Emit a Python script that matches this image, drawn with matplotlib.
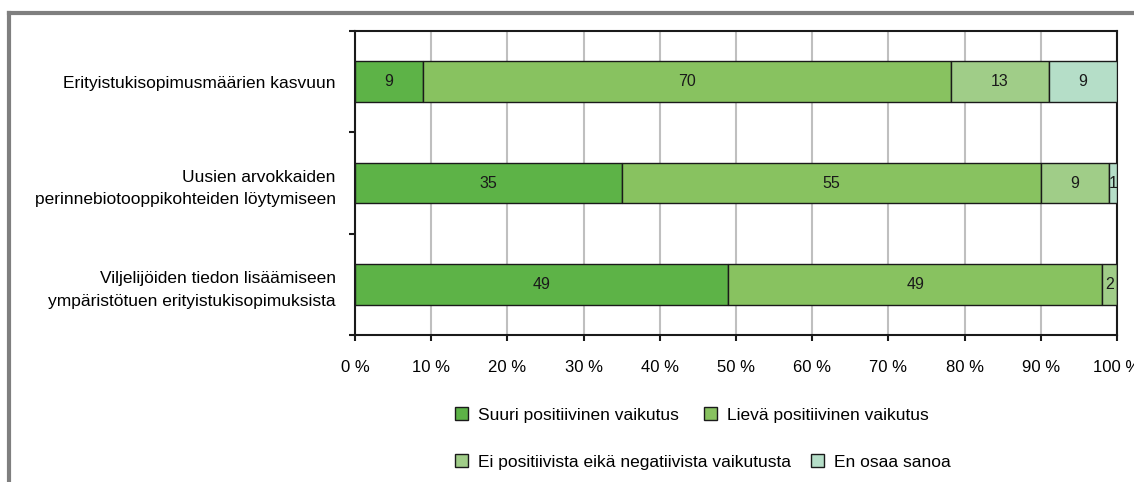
import numpy as np
import matplotlib.pyplot as plt
from matplotlib.lines import Line2D
from matplotlib.patches import Patch

plt.rcParams['font.family'] = ['Liberation Sans', 'DejaVu Sans']

categories = [
    'Erityistukisopimusmäärien kasvuun',
    'Uusien arvokkaiden\nperinnebiotooppikohteiden löytymiseen',
    'Viljelijöiden tiedon lisäämiseen\nympäristötuen erityistukisopimuksista',
]
series = ['Suuri positiivinen vaikutus', 'Lievä positiivinen vaikutus',
          'Ei positiivista eikä negatiivista vaikutusta', 'En osaa sanoa']
suuri = [9, 35, 49]
lieva = [70, 55, 49]
ei = [13, 9, 2]
en_osaa = [9, 1, 0]
colors = ['#5db347', '#88c260', '#a0cd88', '#b5dec8']

data = np.array([suuri, lieva, ei, en_osaa], dtype=float)
pct = data / data.sum(axis=0) * 100

fig = plt.figure(figsize=(11.34, 4.82), dpi=100)
ax = fig.add_axes([355 / 1134, 1 - 335 / 482, 762 / 1134, 304 / 482])

y = np.arange(len(categories))
left = np.zeros(len(categories))
for i in range(len(series)):
    ax.barh(y, pct[i], left=left, height=0.4, color=colors[i],
            edgecolor='#1a1a1a', linewidth=1.0, zorder=3, label=series[i])
    for j in range(len(categories)):
        if data[i, j] > 0:
            ax.text(left[j] + pct[i, j] / 2, y[j], f'{data[i, j]:.0f}',
                    ha='center', va='center', fontsize=11.5, color='#1a1a1a',
                    zorder=4, clip_on=True)
    left += pct[i]

ax.set_xlim(0, 100)
ax.set_ylim(len(categories) - 0.5, -0.5)
ax.set_xticks(np.arange(0, 101, 10))
ax.set_xticklabels([f'{v} %' for v in range(0, 101, 10)], fontsize=12)
ax.set_yticks(np.arange(-0.5, len(categories), 1))
ax.set_yticklabels([])
ax.set_yticks(y, minor=True)
ax.set_yticklabels(categories, minor=True, fontsize=12.5, ha='right', linespacing=1.65)
ax.tick_params(axis='y', which='minor', length=0, pad=14)
ax.tick_params(axis='y', which='major', length=4, width=1.5, color='#1a1a1a')
ax.tick_params(axis='x', length=4, width=1.5, color='#1a1a1a', pad=14)
ax.grid(axis='x', color='#bfbfbf', linewidth=1.5, zorder=0)
for s in ax.spines.values():
    s.set_color('#1a1a1a')
    s.set_linewidth(1.5)

# legend, two rows
h = [Patch(facecolor=c, edgecolor='#1a1a1a', linewidth=1.0) for c in colors]
fig.legend(h[:2], series[:2], loc='center left', bbox_to_anchor=(455 / 1134, 1 - 415 / 482),
           ncol=2, frameon=False, fontsize=12.5, handlelength=0.75, handleheight=0.75,
           handletextpad=0.6, columnspacing=1.4, borderpad=0, borderaxespad=0)
fig.legend(h[2:], series[2:], loc='center left', bbox_to_anchor=(455 / 1134, 1 - 462 / 482),
           ncol=2, frameon=False, fontsize=12.5, handlelength=0.75, handleheight=0.75,
           handletextpad=0.6, columnspacing=1.1, borderpad=0, borderaxespad=0)

# outer frame
fig.add_artist(Line2D([9 / 1134, 9 / 1134], [1 - 13 / 482, 0], transform=fig.transFigure,
                      color='#7f7f7f', linewidth=3))
fig.add_artist(Line2D([9 / 1134, 1], [1 - 13 / 482, 1 - 13 / 482], transform=fig.transFigure,
                      color='#7f7f7f', linewidth=3))

fig.savefig('out.png', dpi=100)
